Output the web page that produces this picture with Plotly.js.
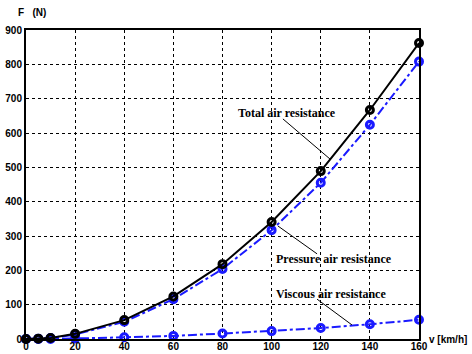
<!DOCTYPE html>
<html><head><meta charset="utf-8">
<script src="https://cdn.plot.ly/plotly-3.0.1.min.js"></script>
<style>html,body{margin:0;padding:0;background:#fff}#chart{width:472px;height:354px}</style>
</head><body><div id="chart"></div>
<script>
var speed = [0, 5, 10, 20, 40, 60, 80, 100, 120, 140, 160];
var totalRes = [0, 1, 3, 15, 55, 124, 218, 341, 489, 667, 862];
var pressureRes = [0, 1, 3, 13, 50, 116, 204, 317, 455, 624, 808];
var viscousRes = [0, 0, 0.3, 1.5, 5, 9, 16, 23, 32, 43, 56];
var xTicks = [0, 20, 40, 60, 80, 100, 120, 140, 160];
var yTicks = [0, 100, 200, 300, 400, 500, 600, 700, 800, 900];
var labelTotal = "Total air resistance";
var labelPressure = "Pressure air resistance";
var labelViscous = "Viscous air resistance";

var blue = "#1a1aff";
var traces = [
  {x: speed, y: pressureRes, mode: "lines+markers", cliponaxis: false,
   line: {color: blue, width: 2, dash: "dashdot"},
   marker: {symbol: "circle-open", size: 7, color: blue, line: {width: 3, color: blue}}},
  {x: speed, y: viscousRes, mode: "lines+markers", cliponaxis: false,
   line: {color: blue, width: 2, dash: "dashdot"},
   marker: {symbol: "circle-open", size: 7, color: blue, line: {width: 3, color: blue}}},
  {x: speed, y: totalRes, mode: "lines+markers", cliponaxis: false,
   line: {color: "#000", width: 2},
   marker: {symbol: "circle-open", size: 7, color: "#000", line: {width: 3, color: "#000"}}}
];

var serif = {family: "Liberation Serif, Times New Roman, serif", size: 12, color: "#000", weight: "bold"};
var layout = {
  width: 472, height: 354,
  margin: {l: 26, r: 53, t: 30, b: 15},
  paper_bgcolor: "#fff", plot_bgcolor: "#fff",
  showlegend: false,
  font: {family: "Liberation Sans, Arial, sans-serif", size: 10, color: "#000", weight: "bold"},
  xaxis: {range: [0, 160], tickvals: xTicks, ticktext: xTicks.map(String), showgrid: true,
          gridcolor: "#000", gridwidth: 1, griddash: "dot", zeroline: false,
          showline: true, linecolor: "#000", linewidth: 2, mirror: true, ticks: "", fixedrange: true,
          ticklabelstandoff: -3,
          tickfont: {size: 10, weight: "bold"}},
  yaxis: {range: [0, 900], tickvals: yTicks, ticktext: yTicks.map(String), showgrid: true,
          gridcolor: "#000", gridwidth: 1, griddash: "dot", zeroline: false,
          showline: true, linecolor: "#000", linewidth: 2, mirror: true, ticks: "", fixedrange: true,
          tickfont: {size: 10, weight: "bold"}},
  shapes: [
    {type: "line", xref: "x", yref: "y", x0: 104.6, y0: 641, x1: 123.8, y1: 524, line: {color: "#000", width: 1}},
    {type: "line", xref: "x", yref: "y", x0: 102.6, y0: 329, x1: 118.5, y1: 248, line: {color: "#000", width: 1}},
    {type: "line", xref: "x", yref: "y", x0: 118.5, y0: 116, x1: 132.7, y1: 41, line: {color: "#000", width: 1}}
  ],
  annotations: [
    {xref: "paper", yref: "paper", x: -0.025, y: 1.058, xanchor: "left", yanchor: "middle", showarrow: false,
     text: "F   (N)", font: {family: "Liberation Sans, Arial, sans-serif", size: 10, weight: "bold"}},
    {xref: "paper", yref: "paper", x: 1.02, y: 0.0, xanchor: "left", yanchor: "middle", showarrow: false,
     text: "v [km/h]", font: {family: "Liberation Sans, Arial, sans-serif", size: 10, weight: "bold"}},
    {xref: "x", yref: "y", x: 85.5, y: 659, xanchor: "left", yanchor: "middle", showarrow: false, text: labelTotal, font: serif},
    {xref: "x", yref: "y", x: 101, y: 233, xanchor: "left", yanchor: "middle", showarrow: false, text: labelPressure, font: serif},
    {xref: "x", yref: "y", x: 101, y: 131, xanchor: "left", yanchor: "middle", showarrow: false, text: labelViscous, font: serif}
  ]
};
Plotly.newPlot("chart", traces, layout, {staticPlot: true});
</script></body></html>
